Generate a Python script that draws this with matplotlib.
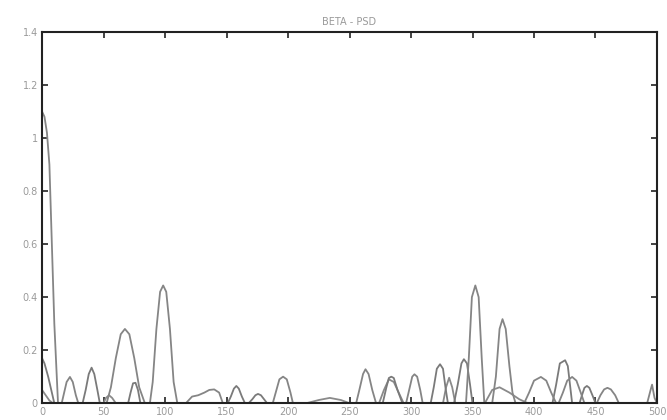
import matplotlib
matplotlib.use("Agg")
import matplotlib.pyplot as plt

title = "BETA - PSD"
xticks = [0, 50, 100, 150, 200, 250, 300, 350, 400, 450, 500]
yticks = [0, 0.2, 0.4, 0.6, 0.8, 1.0, 1.2, 1.4]
ytick_labels = ["0", "0.2", "0.4", "0.6", "0.8", "1", "1.2", "1.4"]

# series A (largest lobes)
a_x = [0, 1, 2, 4, 6, 8, 10, 13,
       16, 18, 20, 22.7, 25, 27.5, 29.5,
       52.5, 56, 60, 64, 67.4, 71, 75, 79, 83.6,
       87.7, 90, 93, 96, 98.5, 101, 104, 107, 110,
       117, 122, 127, 132, 136, 140, 144, 147,
       187.6, 190, 193, 196, 199, 202, 204,
       255.4, 258, 261, 263, 265.5, 268.5, 271.6,
       296, 298.5, 301, 302.8, 305, 307.5, 309.5,
       344.7, 347, 349.5, 352.3, 355, 357.5, 359.6,
       366, 369, 372, 374.4, 377, 380, 382.5, 385,
       392, 396, 400, 405.6, 410, 414, 418,
       420, 423.5, 427, 431, 434.5, 438, 441,
       451, 454, 457, 459.7, 462.5, 466, 469,
       490, 492, 494.8, 496, 498, 500]
a_y = [1.10, 1.09, 1.08, 1.02, 0.90, 0.60, 0.30, 0.0,
       0.0, 0.04, 0.08, 0.099, 0.08, 0.03, 0.0,
       0.0, 0.06, 0.17, 0.26, 0.28, 0.26, 0.17, 0.06, 0.0,
       0.0, 0.08, 0.28, 0.42, 0.444, 0.42, 0.28, 0.08, 0.0,
       0.0, 0.025, 0.03, 0.04, 0.05, 0.052, 0.04, 0.0,
       0.0, 0.04, 0.09, 0.10, 0.09, 0.04, 0.0,
       0.0, 0.05, 0.11, 0.128, 0.11, 0.05, 0.0,
       0.0, 0.05, 0.10, 0.109, 0.10, 0.05, 0.0,
       0.0, 0.17, 0.40, 0.444, 0.40, 0.17, 0.0,
       0.0, 0.10, 0.28, 0.317, 0.28, 0.14, 0.04, 0.0,
       0.0, 0.04, 0.085, 0.099, 0.085, 0.04, 0.0,
       0.0, 0.04, 0.085, 0.099, 0.085, 0.04, 0.0,
       0.0, 0.03, 0.052, 0.058, 0.052, 0.03, 0.0,
       0.0, 0.0, 0.05, 0.07, 0.02, 0.0]

# series B
b_x = [0, 2, 5, 8, 10,
       33, 35.5, 38, 40.3, 42.5, 45, 47,
       70, 72, 74, 76, 78, 80,
       151, 153.5, 156, 158, 160, 162.5, 165,
       168, 171, 173.5, 175.6, 178, 180.5, 183,
       277, 280, 282, 284, 286, 289, 293,
       316, 318.5, 321, 323.6, 326, 328, 330,
       335, 338, 341, 343, 345.5, 348, 350,
       415, 418, 421, 425.3, 427.5, 429.5, 431,
       437, 439, 441, 443, 445, 447.5, 450]
b_y = [0.17, 0.15, 0.10, 0.04, 0.0,
       0.0, 0.05, 0.11, 0.134, 0.11, 0.05, 0.0,
       0.0, 0.04, 0.075, 0.077, 0.05, 0.0,
       0.0, 0.025, 0.055, 0.065, 0.055, 0.025, 0.0,
       0.0, 0.015, 0.03, 0.035, 0.03, 0.015, 0.0,
       0.0, 0.06, 0.095, 0.10, 0.095, 0.05, 0.0,
       0.0, 0.06, 0.13, 0.147, 0.13, 0.06, 0.0,
       0.0, 0.07, 0.15, 0.166, 0.15, 0.07, 0.0,
       0.0, 0.07, 0.15, 0.162, 0.14, 0.06, 0.0,
       0.0, 0.03, 0.058, 0.065, 0.058, 0.03, 0.0]

# series C (small lobes)
c_x = [0, 3, 6, 9, 12,
       50, 52, 54.5, 57, 60,
       215, 225, 234, 243, 250,
       274, 278, 282, 286, 290, 294,
       326, 328.5, 331, 333.5, 336,
       360, 366, 372, 380, 388, 395]
c_y = [0.05, 0.03, 0.01, 0.0, 0.0,
       0.0, 0.02, 0.03, 0.02, 0.0,
       0.0, 0.012, 0.02, 0.012, 0.0,
       0.0, 0.05, 0.09, 0.08, 0.04, 0.0,
       0.0, 0.06, 0.096, 0.06, 0.0,
       0.0, 0.05, 0.06, 0.04, 0.015, 0.0]

fig = plt.figure(figsize=(6.67, 4.2), dpi=100)
ax = fig.add_axes([0.063, 0.040, 0.922, 0.884])

line_kw = dict(lw=1.3, solid_joinstyle="round")
ax.plot(c_x, c_y, color="#8a8a8a", **line_kw)
ax.plot(b_x, b_y, color="#7a7a7a", **line_kw)
ax.plot(a_x, a_y, color="#858585", **line_kw)

ax.set_xlim(0, 500)
ax.set_ylim(0, 1.4)
ax.set_xticks(xticks)
ax.set_xticklabels([str(t) for t in xticks])
ax.set_yticks(yticks)
ax.set_yticklabels(ytick_labels)
ax.tick_params(direction="in", length=4, width=1.2, colors="#222222",
               labelcolor="#9a9a9a", labelsize=7, top=True, right=True, pad=3)
for s in ax.spines.values():
    s.set_linewidth(1.5)
    s.set_color("#222222")
ax.set_title(title, fontsize=7, color="#9a9a9a", pad=5)

fig.savefig("out.png", dpi=100)
